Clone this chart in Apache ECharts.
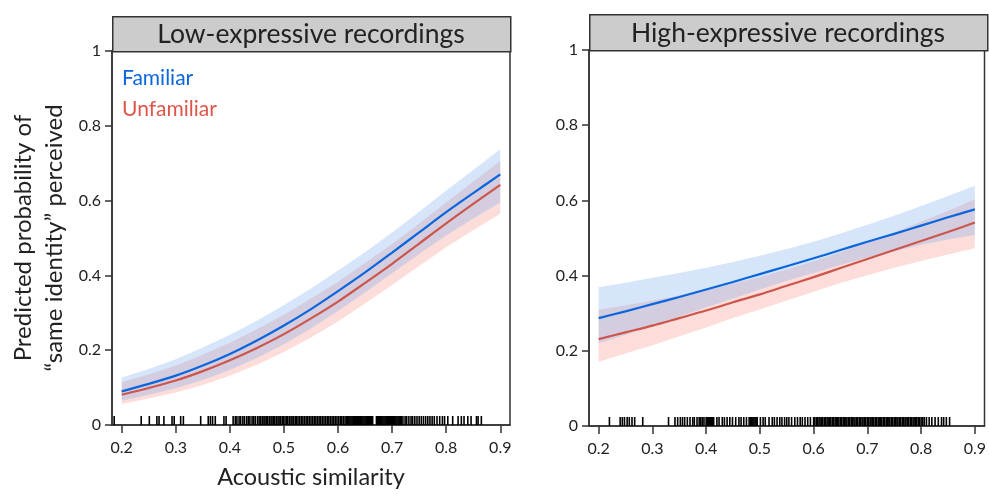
<!DOCTYPE html>
<html>
<head>
<meta charset="utf-8">
<script src="https://cdn.jsdelivr.net/npm/echarts@6/dist/echarts.min.js"></script>
<style>
  html, body { margin: 0; padding: 0; background: #fff; }
  #chart { width: 989px; height: 494px; }
</style>
</head>
<body>
<div id="chart"></div>
<script>
// acoustic similarity values the fitted curves are read at
const xs = [0.2, 0.25, 0.3, 0.35, 0.4, 0.45, 0.5, 0.55, 0.6, 0.65, 0.7, 0.75, 0.8, 0.85, 0.9];
const xTicks = [0.2, 0.3, 0.4, 0.5, 0.6, 0.7, 0.8, 0.9];
const yTicks = [0, 0.2, 0.4, 0.6, 0.8, 1];

// Low-expressive recordings
const lowFam = [0.090, 0.110, 0.132, 0.159, 0.190, 0.226, 0.266, 0.310, 0.358, 0.408, 0.461, 0.515, 0.569, 0.620, 0.670];
const lowFamUp = [0.127, 0.150, 0.176, 0.207, 0.241, 0.279, 0.321, 0.365, 0.413, 0.462, 0.515, 0.570, 0.627, 0.682, 0.737];
const lowFamLo = [0.065, 0.081, 0.098, 0.120, 0.147, 0.179, 0.216, 0.258, 0.305, 0.354, 0.406, 0.457, 0.507, 0.552, 0.595];
const lowUnf = [0.081, 0.099, 0.119, 0.144, 0.173, 0.206, 0.243, 0.285, 0.330, 0.380, 0.431, 0.485, 0.539, 0.591, 0.642];
const lowUnfUp = [0.114, 0.135, 0.159, 0.188, 0.220, 0.256, 0.295, 0.338, 0.383, 0.433, 0.484, 0.539, 0.595, 0.651, 0.706];
const lowUnfLo = [0.056, 0.071, 0.087, 0.107, 0.132, 0.161, 0.195, 0.234, 0.277, 0.325, 0.374, 0.425, 0.475, 0.521, 0.565];

// High-expressive recordings
const highFam = [0.287, 0.305, 0.324, 0.343, 0.363, 0.383, 0.404, 0.425, 0.446, 0.468, 0.490, 0.511, 0.533, 0.555, 0.576];
const highFamUp = [0.369, 0.381, 0.394, 0.407, 0.421, 0.436, 0.453, 0.471, 0.490, 0.512, 0.535, 0.559, 0.585, 0.612, 0.639];
const highFamLo = [0.220, 0.243, 0.267, 0.291, 0.315, 0.339, 0.363, 0.386, 0.407, 0.428, 0.448, 0.465, 0.482, 0.496, 0.508];
const highUnf = [0.231, 0.249, 0.267, 0.287, 0.307, 0.329, 0.350, 0.373, 0.396, 0.420, 0.444, 0.468, 0.492, 0.516, 0.541];
const highUnfUp = [0.309, 0.321, 0.333, 0.347, 0.362, 0.379, 0.396, 0.416, 0.438, 0.462, 0.488, 0.515, 0.543, 0.572, 0.603];
const highUnfLo = [0.171, 0.193, 0.215, 0.239, 0.262, 0.287, 0.310, 0.334, 0.357, 0.380, 0.401, 0.421, 0.439, 0.456, 0.473];

// rug of observed acoustic similarity values
const rugLow = [
  0.186, 0.236, 0.251, 0.265, 0.269, 0.278, 0.293, 0.297, 0.309, 0.314, 0.346, 0.360, 0.364, 0.368, 0.373, 0.389, 0.393,
  0.406, 0.410, 0.413, 0.417, 0.420, 0.424, 0.427, 0.431, 0.434, 0.437, 0.441, 0.444, 0.447, 0.451, 0.454, 0.457, 0.460,
  0.463, 0.465, 0.468, 0.470, 0.473, 0.476, 0.478, 0.481, 0.483, 0.486, 0.489, 0.491, 0.494, 0.497, 0.499, 0.502, 0.505,
  0.507, 0.510, 0.513, 0.515, 0.518, 0.521, 0.523, 0.526, 0.529, 0.532, 0.535, 0.538,
  0.541, 0.544, 0.547, 0.550, 0.553, 0.556, 0.559, 0.562, 0.565, 0.568, 0.571, 0.574, 0.577, 0.580, 0.583, 0.586, 0.589,
  0.592, 0.595, 0.598, 0.601, 0.604, 0.607, 0.610, 0.613, 0.616,
  0.618, 0.620, 0.622, 0.624, 0.626, 0.628, 0.630, 0.632, 0.634, 0.636, 0.638, 0.640, 0.642, 0.644, 0.646, 0.648, 0.650,
  0.652, 0.654, 0.656, 0.658, 0.660, 0.662, 0.664,
  0.671, 0.673, 0.675, 0.677, 0.679, 0.681, 0.683, 0.685, 0.687, 0.689, 0.691, 0.693, 0.695, 0.697, 0.699, 0.701, 0.703,
  0.705, 0.707, 0.709, 0.711, 0.713, 0.715, 0.717,
  0.720, 0.724, 0.727, 0.731, 0.735, 0.738, 0.742, 0.746, 0.750, 0.754, 0.758, 0.762, 0.766, 0.770, 0.774, 0.778, 0.783,
  0.788, 0.793, 0.797,
  0.803, 0.812, 0.822, 0.828, 0.833, 0.840, 0.846, 0.856, 0.859, 0.865
];
const rugHigh = [
  0.220, 0.240, 0.244, 0.248, 0.253, 0.257, 0.262, 0.267, 0.282, 0.330, 0.342, 0.347, 0.352, 0.356, 0.360, 0.365, 0.370,
  0.375, 0.378, 0.383, 0.387, 0.390, 0.393, 0.396, 0.400, 0.402, 0.404, 0.406, 0.408, 0.410, 0.412, 0.414, 0.420, 0.424,
  0.430, 0.434, 0.439, 0.444, 0.449, 0.455, 0.461, 0.465, 0.470, 0.475, 0.480, 0.483, 0.485, 0.487, 0.489, 0.491, 0.493,
  0.495, 0.501, 0.506, 0.510, 0.517, 0.523, 0.527, 0.532, 0.537, 0.541, 0.546, 0.550, 0.554, 0.559, 0.565, 0.570, 0.575,
  0.579, 0.584, 0.589, 0.594,
  0.600, 0.602, 0.605, 0.607, 0.610, 0.612, 0.615, 0.617, 0.620, 0.622, 0.625, 0.627, 0.630, 0.632, 0.635, 0.637, 0.640,
  0.642, 0.645, 0.647, 0.650, 0.652, 0.655, 0.657, 0.660, 0.662, 0.665, 0.667, 0.670, 0.672, 0.675, 0.677, 0.680, 0.682,
  0.685, 0.687, 0.690, 0.692, 0.695, 0.697, 0.700, 0.702, 0.705, 0.707, 0.710, 0.712, 0.715, 0.717, 0.720, 0.722, 0.725,
  0.727, 0.730, 0.732, 0.735, 0.737, 0.740, 0.742, 0.745, 0.747, 0.750, 0.752, 0.755, 0.757, 0.760, 0.762, 0.765, 0.767,
  0.770, 0.772, 0.775, 0.777, 0.780, 0.782, 0.785, 0.787, 0.790, 0.792, 0.795, 0.797,
  0.800, 0.803, 0.806, 0.810, 0.815, 0.820, 0.826, 0.832, 0.838, 0.842, 0.847, 0.853
];

const FONT = 'Lato';
const INK = '#222';
const BLUE = '#0a66dc';
const RED = '#cc564c';
const BLUE_BAND = 'rgba(120, 170, 240, 0.30)';
const RED_BAND = 'rgba(248, 150, 140, 0.32)';

const pairs = (vals) => xs.map((x, i) => [x, vals[i]]);

// confidence band as one polygon: upper edge left->right, lower edge back
function bandSeries(idx, name, up, lo, fill) {
    return {
        type: 'custom', name: name, xAxisIndex: idx, yAxisIndex: idx, silent: true,
        data: [[xs[0], lo[0]]],
        renderItem: (params, api) => {
            const pts = xs.map((x, i) => api.coord([x, up[i]]));
            for (let i = xs.length - 1; i >= 0; i--) pts.push(api.coord([xs[i], lo[i]]));
            return { type: 'polygon', shape: { points: pts }, style: { fill: fill } };
        }
    };
}

// one short vertical tick per observation, sitting on the x axis
function rugSeries(idx, rug) {
    return {
        type: 'custom', xAxisIndex: idx, yAxisIndex: idx, silent: true,
        data: rug.map(v => [v, 0]),
        renderItem: (params, api) => {
            const p = api.coord([api.value(0), 0]);
            return { type: 'rect', shape: { x: p[0] - 0.8, y: p[1] - 9, width: 1.6, height: 9 },
                     style: { fill: '#000' } };
        }
    };
}

function panelSeries(idx, fam, famUp, famLo, unf, unfUp, unfLo, rug) {
    const base = { type: 'line', xAxisIndex: idx, yAxisIndex: idx, symbol: 'none', smooth: 0.3, silent: true };
    return [
        bandSeries(idx, 'unfBand' + idx, unfUp, unfLo, RED_BAND),
        bandSeries(idx, 'famBand' + idx, famUp, famLo, BLUE_BAND),
        { ...base, name: 'Familiar', data: pairs(fam), color: BLUE, lineStyle: { color: BLUE, width: 2.2 } },
        { ...base, name: 'Unfamiliar', data: pairs(unf), color: RED, lineStyle: { color: RED, width: 2.2 } },
        rugSeries(idx, rug)
    ];
}

function xAxisFor(idx, withName) {
    return {
        type: 'value', gridIndex: idx, min: 0.182, max: 0.918,
        name: withName ? 'Acoustic similarity' : '',
        nameLocation: 'middle', nameGap: 40,
        nameTextStyle: { fontFamily: FONT, fontSize: 23.5, color: INK },
        axisLine: { lineStyle: { color: '#333', width: 1.5 } },
        axisTick: { customValues: xTicks, length: 8, lineStyle: { color: '#333', width: 1.5 } },
        axisLabel: { customValues: xTicks, margin: 15, fontFamily: FONT, fontSize: 16, color: INK,
                     formatter: v => v.toFixed(1) },
        splitLine: { show: false }
    };
}

function yAxisFor(idx, withName) {
    return {
        type: 'value', gridIndex: idx, min: 0, max: 1, interval: 0.2,
        name: withName ? 'Predicted probability of\n\u201Csame identity\u201D perceived' : '',
        nameLocation: 'middle', nameGap: 42,
        nameTextStyle: { fontFamily: FONT, fontSize: 24, color: INK, lineHeight: 31 },
        axisLine: { lineStyle: { color: '#333', width: 1.5 } },
        axisTick: { length: 7, lineStyle: { color: '#333', width: 1.5 } },
        axisLabel: { margin: 11, fontFamily: FONT, fontSize: 16, color: INK,
                     formatter: v => (v === 0 || v === 1) ? String(v) : v.toFixed(1) },
        splitLine: { show: false }
    };
}

function header(x, y, w, h, label) {
    return [
        { type: 'rect', left: x, top: y, shape: { width: w, height: h },
          style: { fill: '#cccccc', stroke: '#333', lineWidth: 1.5 } },
        { type: 'text', x: x + w / 2, y: y + h / 2 + 1,
          style: { text: label, fontFamily: FONT, fontSize: 26.5, fill: INK, align: 'center', verticalAlign: 'middle' } }
    ];
}

const chart = echarts.init(document.getElementById('chart'));

const option = {
    backgroundColor: '#fff',
    animation: false,
    grid: [
        { left: 112, top: 51, width: 398, height: 377, show: true, borderColor: '#333', borderWidth: 1.5 },
        { left: 589, top: 50, width: 398, height: 376, show: true, borderColor: '#333', borderWidth: 1.5 }
    ],
    xAxis: [xAxisFor(0, true), xAxisFor(1, false)],
    yAxis: [yAxisFor(0, true), yAxisFor(1, false)],
    legend: {
        orient: 'vertical', left: 112, top: 61, itemWidth: 0, itemHeight: 0, itemGap: 6,
        selectedMode: false, icon: 'rect',
        textStyle: { fontFamily: FONT, fontSize: 21, lineHeight: 25 },
        data: [
            { name: 'Familiar', textStyle: { color: BLUE } },
            { name: 'Unfamiliar', textStyle: { color: '#dd5548' } }
        ]
    },
    graphic: [
        ...header(112, 16, 398, 35, 'Low-expressive recordings'),
        ...header(589, 14, 398, 36, 'High-expressive recordings')
    ],
    series: [
        ...panelSeries(0, lowFam, lowFamUp, lowFamLo, lowUnf, lowUnfUp, lowUnfLo, rugLow),
        ...panelSeries(1, highFam, highFamUp, highFamLo, highUnf, highUnfUp, highUnfLo, rugHigh)
    ]
};

chart.setOption(option);
</script>
</body>
</html>
